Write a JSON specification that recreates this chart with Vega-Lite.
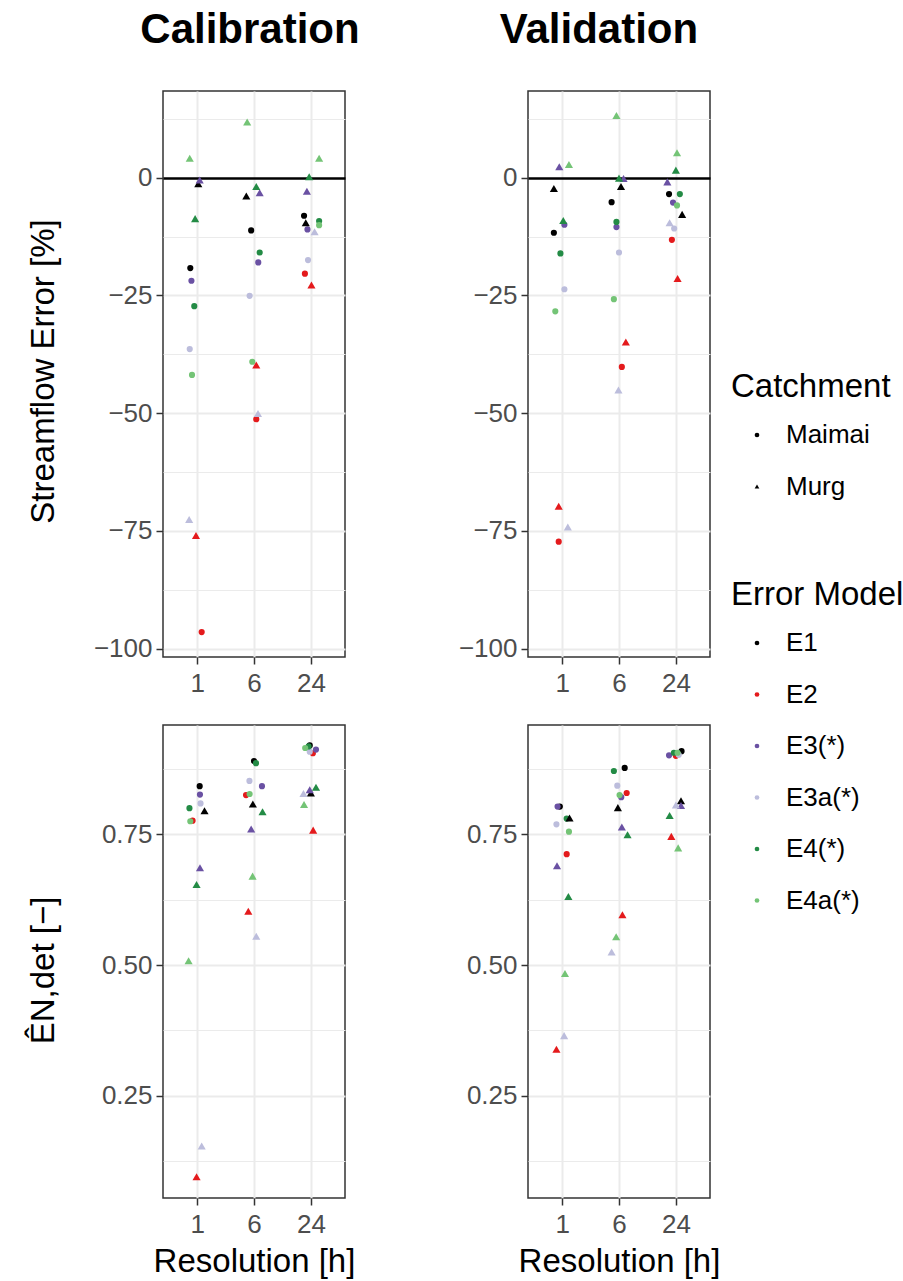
{
  "$schema": "https://vega.github.io/schema/vega-lite/v6.json",
  "padding": {"left": 26, "top": 8, "right": 0, "bottom": 0},
  "background": "white",
  "datasets": {
    "calSE": [
      {"res":"1","c":"Maimai","e":"E1","x":0.88,"v":-19.2},{"res":"6","c":"Maimai","e":"E1","x":1.95,"v":-11.2},{"res":"24","c":"Maimai","e":"E1","x":2.88,"v":-8.1},
      {"res":"1","c":"Maimai","e":"E2","x":1.08,"v":-96.5},{"res":"6","c":"Maimai","e":"E2","x":2.04,"v":-51.3},{"res":"24","c":"Maimai","e":"E2","x":2.895,"v":-20.4},
      {"res":"1","c":"Maimai","e":"E3(*)","x":0.9,"v":-21.9},{"res":"6","c":"Maimai","e":"E3(*)","x":2.075,"v":-18.0},{"res":"24","c":"Maimai","e":"E3(*)","x":2.94,"v":-11.0},
      {"res":"1","c":"Maimai","e":"E3a(*)","x":0.87,"v":-36.4},{"res":"6","c":"Maimai","e":"E3a(*)","x":1.923,"v":-25.1},{"res":"24","c":"Maimai","e":"E3a(*)","x":2.95,"v":-17.5},
      {"res":"1","c":"Maimai","e":"E4(*)","x":0.95,"v":-27.3},{"res":"6","c":"Maimai","e":"E4(*)","x":2.1,"v":-15.9},{"res":"24","c":"Maimai","e":"E4(*)","x":3.145,"v":-9.2},
      {"res":"1","c":"Maimai","e":"E4a(*)","x":0.91,"v":-41.9},{"res":"6","c":"Maimai","e":"E4a(*)","x":1.97,"v":-39.1},{"res":"24","c":"Maimai","e":"E4a(*)","x":3.145,"v":-10.1},
      {"res":"1","c":"Murg","e":"E1","x":1.02,"v":-1.3},{"res":"6","c":"Murg","e":"E1","x":1.865,"v":-3.9},{"res":"24","c":"Murg","e":"E1","x":2.91,"v":-9.6},
      {"res":"1","c":"Murg","e":"E2","x":0.98,"v":-76.0},{"res":"6","c":"Murg","e":"E2","x":2.04,"v":-39.8},{"res":"24","c":"Murg","e":"E2","x":3.01,"v":-22.8},
      {"res":"1","c":"Murg","e":"E3(*)","x":1.045,"v":-0.5},{"res":"6","c":"Murg","e":"E3(*)","x":2.1,"v":-3.2},{"res":"24","c":"Murg","e":"E3(*)","x":2.93,"v":-2.9},
      {"res":"1","c":"Murg","e":"E3a(*)","x":0.86,"v":-72.6},{"res":"6","c":"Murg","e":"E3a(*)","x":2.07,"v":-50.1},{"res":"24","c":"Murg","e":"E3a(*)","x":3.065,"v":-11.5},
      {"res":"1","c":"Murg","e":"E4(*)","x":0.965,"v":-8.7},{"res":"6","c":"Murg","e":"E4(*)","x":2.04,"v":-1.9},{"res":"24","c":"Murg","e":"E4(*)","x":2.97,"v":0.2},
      {"res":"1","c":"Murg","e":"E4a(*)","x":0.87,"v":4.1},{"res":"6","c":"Murg","e":"E4a(*)","x":1.88,"v":11.8},{"res":"24","c":"Murg","e":"E4a(*)","x":3.145,"v":4.1}
    ],
    "valSE": [
      {"res":"1","c":"Maimai","e":"E1","x":0.855,"v":-11.7},{"res":"6","c":"Maimai","e":"E1","x":1.87,"v":-5.2},{"res":"24","c":"Maimai","e":"E1","x":2.88,"v":-3.5},
      {"res":"1","c":"Maimai","e":"E2","x":0.94,"v":-77.3},{"res":"6","c":"Maimai","e":"E2","x":2.05,"v":-40.2},{"res":"24","c":"Maimai","e":"E2","x":2.93,"v":-13.2},
      {"res":"1","c":"Maimai","e":"E3(*)","x":1.04,"v":-10.0},{"res":"6","c":"Maimai","e":"E3(*)","x":1.955,"v":-10.5},{"res":"24","c":"Maimai","e":"E3(*)","x":2.95,"v":-5.3},
      {"res":"1","c":"Maimai","e":"E3a(*)","x":1.04,"v":-23.7},{"res":"6","c":"Maimai","e":"E3a(*)","x":2.0,"v":-15.9},{"res":"24","c":"Maimai","e":"E3a(*)","x":2.97,"v":-10.8},
      {"res":"1","c":"Maimai","e":"E4(*)","x":0.97,"v":-16.1},{"res":"6","c":"Maimai","e":"E4(*)","x":1.955,"v":-9.4},{"res":"24","c":"Maimai","e":"E4(*)","x":3.07,"v":-3.5},
      {"res":"1","c":"Maimai","e":"E4a(*)","x":0.88,"v":-28.4},{"res":"6","c":"Maimai","e":"E4a(*)","x":1.91,"v":-25.8},{"res":"24","c":"Maimai","e":"E4a(*)","x":3.02,"v":-5.9},
      {"res":"1","c":"Murg","e":"E1","x":0.855,"v":-2.3},{"res":"6","c":"Murg","e":"E1","x":2.035,"v":-1.9},{"res":"24","c":"Murg","e":"E1","x":3.11,"v":-7.8},
      {"res":"1","c":"Murg","e":"E2","x":0.94,"v":-69.8},{"res":"6","c":"Murg","e":"E2","x":2.12,"v":-34.9},{"res":"24","c":"Murg","e":"E2","x":3.03,"v":-21.4},
      {"res":"1","c":"Murg","e":"E3(*)","x":0.95,"v":2.3},{"res":"6","c":"Murg","e":"E3(*)","x":2.08,"v":-0.2},{"res":"24","c":"Murg","e":"E3(*)","x":2.85,"v":-0.9},
      {"res":"1","c":"Murg","e":"E3a(*)","x":1.1,"v":-74.2},{"res":"6","c":"Murg","e":"E3a(*)","x":1.99,"v":-45.1},{"res":"24","c":"Murg","e":"E3a(*)","x":2.89,"v":-9.6},
      {"res":"1","c":"Murg","e":"E4(*)","x":1.02,"v":-9.1},{"res":"6","c":"Murg","e":"E4(*)","x":2.0,"v":-0.1},{"res":"24","c":"Murg","e":"E4(*)","x":3.0,"v":1.6},
      {"res":"1","c":"Murg","e":"E4a(*)","x":1.12,"v":2.8},{"res":"6","c":"Murg","e":"E4a(*)","x":1.955,"v":13.2},{"res":"24","c":"Murg","e":"E4a(*)","x":3.02,"v":5.3}
    ],
    "calNSE": [
      {"res":"1","c":"Maimai","e":"E1","x":1.045,"v":0.842},{"res":"6","c":"Maimai","e":"E1","x":2.0,"v":0.89},{"res":"24","c":"Maimai","e":"E1","x":2.98,"v":0.92},
      {"res":"1","c":"Maimai","e":"E2","x":0.92,"v":0.776},{"res":"6","c":"Maimai","e":"E2","x":1.86,"v":0.825},{"res":"24","c":"Maimai","e":"E2","x":3.035,"v":0.905},
      {"res":"1","c":"Maimai","e":"E3(*)","x":1.05,"v":0.826},{"res":"6","c":"Maimai","e":"E3(*)","x":2.14,"v":0.842},{"res":"24","c":"Maimai","e":"E3(*)","x":3.09,"v":0.912},
      {"res":"1","c":"Maimai","e":"E3a(*)","x":1.06,"v":0.809},{"res":"6","c":"Maimai","e":"E3a(*)","x":1.92,"v":0.852},{"res":"24","c":"Maimai","e":"E3a(*)","x":2.98,"v":0.908},
      {"res":"1","c":"Maimai","e":"E4(*)","x":0.865,"v":0.8},{"res":"6","c":"Maimai","e":"E4(*)","x":2.035,"v":0.886},{"res":"24","c":"Maimai","e":"E4(*)","x":2.96,"v":0.918},
      {"res":"1","c":"Maimai","e":"E4a(*)","x":0.88,"v":0.775},{"res":"6","c":"Maimai","e":"E4a(*)","x":1.923,"v":0.827},{"res":"24","c":"Maimai","e":"E4a(*)","x":2.9,"v":0.915},
      {"res":"1","c":"Murg","e":"E1","x":1.13,"v":0.795},{"res":"6","c":"Murg","e":"E1","x":1.98,"v":0.808},{"res":"24","c":"Murg","e":"E1","x":3.0,"v":0.829},
      {"res":"1","c":"Murg","e":"E2","x":0.99,"v":0.095},{"res":"6","c":"Murg","e":"E2","x":1.9,"v":0.603},{"res":"24","c":"Murg","e":"E2","x":3.04,"v":0.758},
      {"res":"1","c":"Murg","e":"E3(*)","x":1.05,"v":0.686},{"res":"6","c":"Murg","e":"E3(*)","x":1.95,"v":0.76},{"res":"24","c":"Murg","e":"E3(*)","x":2.98,"v":0.835},
      {"res":"1","c":"Murg","e":"E3a(*)","x":1.08,"v":0.154},{"res":"6","c":"Murg","e":"E3a(*)","x":2.04,"v":0.555},{"res":"24","c":"Murg","e":"E3a(*)","x":2.87,"v":0.828},
      {"res":"1","c":"Murg","e":"E4(*)","x":0.99,"v":0.654},{"res":"6","c":"Murg","e":"E4(*)","x":2.15,"v":0.793},{"res":"24","c":"Murg","e":"E4(*)","x":3.09,"v":0.84},
      {"res":"1","c":"Murg","e":"E4a(*)","x":0.85,"v":0.508},{"res":"6","c":"Murg","e":"E4a(*)","x":1.975,"v":0.67},{"res":"24","c":"Murg","e":"E4a(*)","x":2.88,"v":0.807}
    ],
    "valNSE": [
      {"res":"1","c":"Maimai","e":"E1","x":0.96,"v":0.803},{"res":"6","c":"Maimai","e":"E1","x":2.1,"v":0.877},{"res":"24","c":"Maimai","e":"E1","x":3.1,"v":0.909},
      {"res":"1","c":"Maimai","e":"E2","x":1.08,"v":0.712},{"res":"6","c":"Maimai","e":"E2","x":2.135,"v":0.829},{"res":"24","c":"Maimai","e":"E2","x":3.0,"v":0.9},
      {"res":"1","c":"Maimai","e":"E3(*)","x":0.92,"v":0.803},{"res":"6","c":"Maimai","e":"E3(*)","x":2.04,"v":0.821},{"res":"24","c":"Maimai","e":"E3(*)","x":2.88,"v":0.901},
      {"res":"1","c":"Maimai","e":"E3a(*)","x":0.9,"v":0.769},{"res":"6","c":"Maimai","e":"E3a(*)","x":1.97,"v":0.843},{"res":"24","c":"Maimai","e":"E3a(*)","x":3.05,"v":0.902},
      {"res":"1","c":"Maimai","e":"E4(*)","x":1.08,"v":0.78},{"res":"6","c":"Maimai","e":"E4(*)","x":1.91,"v":0.871},{"res":"24","c":"Maimai","e":"E4(*)","x":2.965,"v":0.906},
      {"res":"1","c":"Maimai","e":"E4a(*)","x":1.12,"v":0.755},{"res":"6","c":"Maimai","e":"E4a(*)","x":2.01,"v":0.825},{"res":"24","c":"Maimai","e":"E4a(*)","x":3.03,"v":0.906},
      {"res":"1","c":"Murg","e":"E1","x":1.13,"v":0.781},{"res":"6","c":"Murg","e":"E1","x":1.98,"v":0.801},{"res":"24","c":"Murg","e":"E1","x":3.09,"v":0.814},
      {"res":"1","c":"Murg","e":"E2","x":0.9,"v":0.339},{"res":"6","c":"Murg","e":"E2","x":2.06,"v":0.596},{"res":"24","c":"Murg","e":"E2","x":2.92,"v":0.746},
      {"res":"1","c":"Murg","e":"E3(*)","x":0.91,"v":0.69},{"res":"6","c":"Murg","e":"E3(*)","x":2.05,"v":0.764},{"res":"24","c":"Murg","e":"E3(*)","x":3.09,"v":0.805},
      {"res":"1","c":"Murg","e":"E3a(*)","x":1.035,"v":0.365},{"res":"6","c":"Murg","e":"E3a(*)","x":1.87,"v":0.525},{"res":"24","c":"Murg","e":"E3a(*)","x":3.0,"v":0.806},
      {"res":"1","c":"Murg","e":"E4(*)","x":1.11,"v":0.631},{"res":"6","c":"Murg","e":"E4(*)","x":2.15,"v":0.749},{"res":"24","c":"Murg","e":"E4(*)","x":2.89,"v":0.786},
      {"res":"1","c":"Murg","e":"E4a(*)","x":1.05,"v":0.484},{"res":"6","c":"Murg","e":"E4a(*)","x":1.95,"v":0.554},{"res":"24","c":"Murg","e":"E4a(*)","x":3.04,"v":0.724}
    ]
  },
  "columns": 2,
  "align": "each",
  "spacing": {"row": 27, "column": 96},
  "resolve": {"scale": {"x": "independent", "y": "independent"}},
  "concat": [
    {
      "width": 182, "height": 566,
      "title": {"text": "Calibration", "dx": -4},
      "data": {"name": "calSE"},
      "encoding": {
        "x": {"field": "x", "type": "quantitative", "scale": {"domain": [0.4, 3.6], "nice": false, "zero": false}, "axis": {"values": [1, 2, 3], "labelExpr": "datum.value == 1 ? '1' : datum.value == 2 ? '6' : '24'", "title": null, "grid": true, "gridWidth": 2, "labelPadding": 6}},
        "y": {"field": "v", "type": "quantitative", "scale": {"domain": [-101.8, 18.4], "nice": false, "zero": false},
          "axis": {"values": [-100, -87.5, -75, -62.5, -50, -37.5, -25, -12.5, 0, 12.5], "labelExpr": "datum.value % 25 != 0 ? '' : datum.label",
            "tickOpacity": {"condition": {"test": "datum.value % 25 != 0", "value": 0}, "value": 1},
            "gridWidth": {"condition": [{"test": "datum.value == 0", "value": 2.5}, {"test": "datum.value % 25 != 0", "value": 1}], "value": 2},
            "gridColor": {"condition": {"test": "datum.value == 0", "value": "#000000"}, "value": "#EBEBEB"},
            "title": "Streamflow Error [%]", "titleX": -110, "titleY": 280, "titleAlign": "center", "titleBaseline": "alphabetic", "titleAngle": 270}},
        "color": {"field": "e", "type": "nominal", "scale": {"domain": ["E1", "E2", "E3(*)", "E3a(*)", "E4(*)", "E4a(*)"], "range": ["#000000", "#E41A1C", "#6A51A3", "#BCBDDC", "#238B45", "#74C476"]}, "legend": {"title": "Error Model", "orient": "none", "legendX": 568, "legendY": 488, "symbolType": "circle"}},
        "shape": {"field": "c", "type": "nominal", "scale": {"domain": ["Maimai", "Murg"], "range": ["circle", "triangle-up"]}, "legend": {"title": "Catchment", "orient": "none", "legendX": 568, "legendY": 280, "symbolFillColor": "black"}}
      },
      "layer": [
        {"transform": [{"filter": "datum.c == 'Maimai'"}], "mark": {"type": "point", "filled": true, "opacity": 1, "strokeWidth": 0, "size": 38}},
        {"transform": [{"filter": "datum.c == 'Murg'"}], "mark": {"type": "point", "filled": true, "opacity": 1, "strokeWidth": 0, "size": 66}}
      ]
    },
    {
      "width": 182, "height": 566,
      "title": {"text": "Validation", "dx": -20},
      "data": {"name": "valSE"},
      "encoding": {
        "x": {"field": "x", "type": "quantitative", "scale": {"domain": [0.4, 3.6], "nice": false, "zero": false}, "axis": {"values": [1, 2, 3], "labelExpr": "datum.value == 1 ? '1' : datum.value == 2 ? '6' : '24'", "title": null, "grid": true, "gridWidth": 2, "labelPadding": 6}},
        "y": {"field": "v", "type": "quantitative", "scale": {"domain": [-101.8, 18.4], "nice": false, "zero": false},
          "axis": {"values": [-100, -87.5, -75, -62.5, -50, -37.5, -25, -12.5, 0, 12.5], "labelExpr": "datum.value % 25 != 0 ? '' : datum.label",
            "tickOpacity": {"condition": {"test": "datum.value % 25 != 0", "value": 0}, "value": 1},
            "gridWidth": {"condition": [{"test": "datum.value == 0", "value": 2.5}, {"test": "datum.value % 25 != 0", "value": 1}], "value": 2},
            "gridColor": {"condition": {"test": "datum.value == 0", "value": "#000000"}, "value": "#EBEBEB"},
            "title": null}},
        "color": {"field": "e", "type": "nominal", "scale": {"domain": ["E1", "E2", "E3(*)", "E3a(*)", "E4(*)", "E4a(*)"], "range": ["#000000", "#E41A1C", "#6A51A3", "#BCBDDC", "#238B45", "#74C476"]}, "legend": {"title": "Error Model", "orient": "none", "legendX": 568, "legendY": 488, "symbolType": "circle"}},
        "shape": {"field": "c", "type": "nominal", "scale": {"domain": ["Maimai", "Murg"], "range": ["circle", "triangle-up"]}, "legend": {"title": "Catchment", "orient": "none", "legendX": 568, "legendY": 280, "symbolFillColor": "black"}}
      },
      "layer": [
        {"transform": [{"filter": "datum.c == 'Maimai'"}], "mark": {"type": "point", "filled": true, "opacity": 1, "strokeWidth": 0, "size": 38}},
        {"transform": [{"filter": "datum.c == 'Murg'"}], "mark": {"type": "point", "filled": true, "opacity": 1, "strokeWidth": 0, "size": 66}}
      ]
    },
    {
      "width": 182, "height": 473,
      "data": {"name": "calNSE"},
      "encoding": {
        "x": {"field": "x", "type": "quantitative", "scale": {"domain": [0.4, 3.6], "nice": false, "zero": false}, "axis": {"values": [1, 2, 3], "labelExpr": "datum.value == 1 ? '1' : datum.value == 2 ? '6' : '24'", "title": "Resolution [h]", "titlePadding": 8, "grid": true, "gridWidth": 2, "labelPadding": 6}},
        "y": {"field": "v", "type": "quantitative", "scale": {"domain": [0.0545, 0.959], "nice": false, "zero": false},
          "axis": {"values": [0.125, 0.25, 0.375, 0.5, 0.625, 0.75, 0.875], "format": ".2f", "labelExpr": "abs(datum.value * 4 - round(datum.value * 4)) > 0.01 ? '' : datum.label",
            "tickOpacity": {"condition": {"test": "abs(datum.value * 4 - round(datum.value * 4)) > 0.01", "value": 0}, "value": 1},
            "gridWidth": {"condition": {"test": "abs(datum.value * 4 - round(datum.value * 4)) > 0.01", "value": 1}, "value": 2},
            "title": "ÊN,det [−]", "titleX": -110, "titleY": 245, "titleAlign": "center", "titleBaseline": "alphabetic", "titleAngle": 270}},
        "color": {"field": "e", "type": "nominal", "scale": {"domain": ["E1", "E2", "E3(*)", "E3a(*)", "E4(*)", "E4a(*)"], "range": ["#000000", "#E41A1C", "#6A51A3", "#BCBDDC", "#238B45", "#74C476"]}, "legend": {"title": "Error Model", "orient": "none", "legendX": 568, "legendY": 488, "symbolType": "circle"}},
        "shape": {"field": "c", "type": "nominal", "scale": {"domain": ["Maimai", "Murg"], "range": ["circle", "triangle-up"]}, "legend": {"title": "Catchment", "orient": "none", "legendX": 568, "legendY": 280, "symbolFillColor": "black"}}
      },
      "layer": [
        {"transform": [{"filter": "datum.c == 'Maimai'"}], "mark": {"type": "point", "filled": true, "opacity": 1, "strokeWidth": 0, "size": 38}},
        {"transform": [{"filter": "datum.c == 'Murg'"}], "mark": {"type": "point", "filled": true, "opacity": 1, "strokeWidth": 0, "size": 66}}
      ]
    },
    {
      "width": 182, "height": 473,
      "data": {"name": "valNSE"},
      "encoding": {
        "x": {"field": "x", "type": "quantitative", "scale": {"domain": [0.4, 3.6], "nice": false, "zero": false}, "axis": {"values": [1, 2, 3], "labelExpr": "datum.value == 1 ? '1' : datum.value == 2 ? '6' : '24'", "title": "Resolution [h]", "titlePadding": 8, "grid": true, "gridWidth": 2, "labelPadding": 6}},
        "y": {"field": "v", "type": "quantitative", "scale": {"domain": [0.0545, 0.959], "nice": false, "zero": false},
          "axis": {"values": [0.125, 0.25, 0.375, 0.5, 0.625, 0.75, 0.875], "format": ".2f", "labelExpr": "abs(datum.value * 4 - round(datum.value * 4)) > 0.01 ? '' : datum.label",
            "tickOpacity": {"condition": {"test": "abs(datum.value * 4 - round(datum.value * 4)) > 0.01", "value": 0}, "value": 1},
            "gridWidth": {"condition": {"test": "abs(datum.value * 4 - round(datum.value * 4)) > 0.01", "value": 1}, "value": 2},
            "title": null}},
        "color": {"field": "e", "type": "nominal", "scale": {"domain": ["E1", "E2", "E3(*)", "E3a(*)", "E4(*)", "E4a(*)"], "range": ["#000000", "#E41A1C", "#6A51A3", "#BCBDDC", "#238B45", "#74C476"]}, "legend": {"title": "Error Model", "orient": "none", "legendX": 568, "legendY": 488, "symbolType": "circle"}},
        "shape": {"field": "c", "type": "nominal", "scale": {"domain": ["Maimai", "Murg"], "range": ["circle", "triangle-up"]}, "legend": {"title": "Catchment", "orient": "none", "legendX": 568, "legendY": 280, "symbolFillColor": "black"}}
      },
      "layer": [
        {"transform": [{"filter": "datum.c == 'Maimai'"}], "mark": {"type": "point", "filled": true, "opacity": 1, "strokeWidth": 0, "size": 38}},
        {"transform": [{"filter": "datum.c == 'Murg'"}], "mark": {"type": "point", "filled": true, "opacity": 1, "strokeWidth": 0, "size": 66}}
      ]
    }
  ],
  "config": {
    "font": "Liberation Sans",
    "view": {"stroke": "#333333", "strokeWidth": 1.5},
    "title": {"fontSize": 42, "fontWeight": "bold", "color": "black", "anchor": "middle", "frame": "group", "baseline": "alphabetic", "offset": 39},
    "axis": {"domain": false, "labelFontSize": 26, "labelColor": "#4D4D4D", "tickColor": "#333333", "tickWidth": 1.5, "tickSize": 7, "labelPadding": 4, "titleFontSize": 33, "titleFontWeight": "normal", "titleColor": "black", "gridColor": "#EBEBEB", "labelFlush": false, "labelOverlap": false},
    "legend": {"titleFontSize": 33, "titleFontWeight": "normal", "titleColor": "black", "labelFontSize": 26, "labelColor": "black", "symbolSize": 22, "symbolStrokeWidth": 0, "symbolOffset": 13, "labelOffset": 16, "rowPadding": 25.5, "titlePadding": 18}
  }
}
